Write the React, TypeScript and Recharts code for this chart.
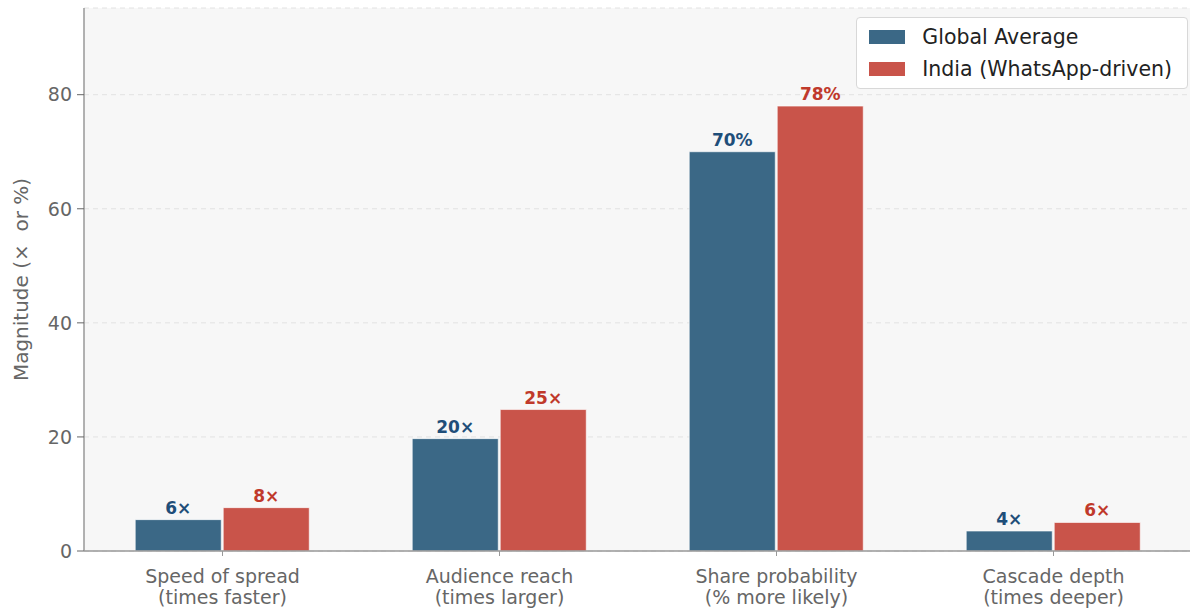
import React from 'react';
import { BarChart, Bar, XAxis, YAxis, CartesianGrid, LabelList } from 'recharts';

document.body.style.margin = '0';

const categories = ['Speed of spread', 'Audience reach', 'Share probability', 'Cascade depth'];
const subtitles = ['(times faster)', '(times larger)', '(% more likely)', '(times deeper)'];
const globalValues = [5.5, 19.7, 70, 3.5];
const indiaValues = [7.6, 24.8, 78, 5.0];
const globalLabels = ['6×', '20×', '70%', '4×'];
const indiaLabels = ['8×', '25×', '78%', '6×'];
const yTicks = [0, 20, 40, 60, 80];

const BLUE = '#3b6886';
const RED = '#c9544a';
const BLUE_TEXT = '#1f4e79';
const RED_TEXT = '#c0392b';
const FONT = 'DejaVu Sans, sans-serif';

const data = categories.map((c, i) => ({
  name: c,
  global: globalValues[i],
  india: indiaValues[i],
  globalLabel: globalLabels[i],
  indiaLabel: indiaLabels[i],
}));

const CategoryTick = (props: any) => {
  const { x, y, payload, index } = props;
  return (
    <text x={x} y={y} textAnchor="middle" fill="#666" fontSize={19} fontFamily={FONT}>
      <tspan x={x} dy={25}>{payload.value}</tspan>
      <tspan x={x} dy={21}>{subtitles[index]}</tspan>
    </text>
  );
};

const LegendBox = () => (
  <div
    style={{
      position: 'absolute',
      top: 17,
      right: 2,
      background: '#fff',
      border: '1px solid #d8d8d8',
      borderRadius: 4,
      padding: '3px 15px 3px 12px',
      fontFamily: FONT,
      fontSize: 20.5,
      color: '#222',
    }}
  >
    {[
      { label: 'Global Average', color: BLUE },
      { label: 'India (WhatsApp-driven)', color: RED },
    ].map((e) => (
      <div key={e.label} style={{ display: 'flex', alignItems: 'center', height: 32 }}>
        <span style={{ display: 'inline-block', width: 36, height: 14, background: e.color, marginRight: 17 }} />
        <span>{e.label}</span>
      </div>
    ))}
  </div>
);

const makeLabel = (color: string) => (props: any) => {
  const { x, y, width, value } = props;
  return (
    <text x={x + width / 2} y={y - 6} textAnchor="middle" fill={color} fontSize={17} fontWeight="bold" fontFamily={FONT}>
      {value}
    </text>
  );
};

export default function App() {
  return (
    <div style={{ position: 'relative', width: 1190, height: 614, overflow: 'hidden' }}>
      <BarChart
        width={1192}
        height={614}
        data={data}
        margin={{ top: 8, right: 0, left: 0, bottom: 0 }}
        barCategoryGap="18.5%"
        barGap={2}
      >
        <CartesianGrid vertical={false} stroke="#e2e2e2" strokeDasharray="5 4" fill="#f7f7f7" />
        <XAxis
          dataKey="name"
          height={63}
          interval={0}
          tick={<CategoryTick />}
          tickSize={5}
          axisLine={{ stroke: '#999', strokeWidth: 1.5 }}
          tickLine={{ stroke: '#999' }}
        />
        <YAxis
          width={84}
          domain={[0, 95.2]}
          ticks={yTicks}
          tickSize={7}
          tickMargin={5}
          tick={{ fill: '#666', fontSize: 19, fontFamily: FONT }}
          axisLine={{ stroke: '#999', strokeWidth: 1.5 }}
          tickLine={{ stroke: '#666' }}
          label={{
            value: 'Magnitude (×\u00a0\u00a0or %)',
            angle: -90,
            position: 'insideLeft',
            offset: 21,
            style: { textAnchor: 'middle', fill: '#666', fontSize: 20, fontFamily: FONT },
          }}
        />
        <Bar dataKey="global" fill={BLUE} stroke="#ffffff" strokeOpacity={0.6} isAnimationActive={false}>
          <LabelList dataKey="globalLabel" content={makeLabel(BLUE_TEXT)} />
        </Bar>
        <Bar dataKey="india" fill={RED} stroke="#ffffff" strokeOpacity={0.6} isAnimationActive={false}>
          <LabelList dataKey="indiaLabel" content={makeLabel(RED_TEXT)} />
        </Bar>
      </BarChart>
      <LegendBox />
    </div>
  );
}
